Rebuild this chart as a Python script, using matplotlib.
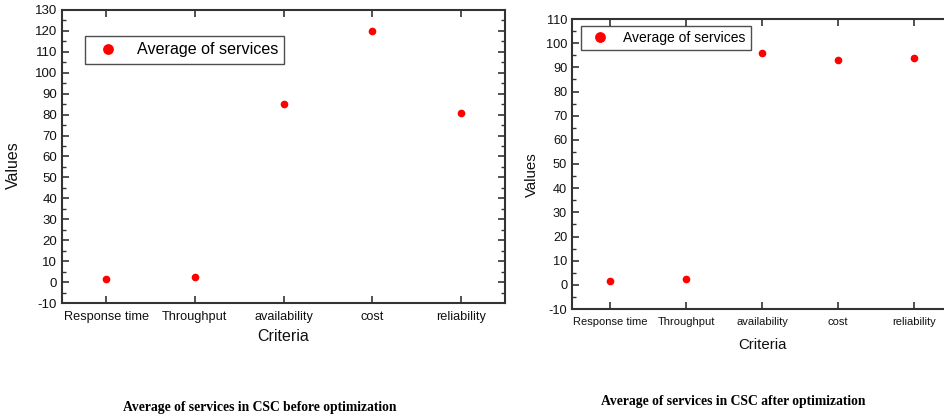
import matplotlib
matplotlib.use("Agg")
import matplotlib.pyplot as plt
from matplotlib.ticker import MultipleLocator

categories = ["Response time", "Throughput", "availability", "cost", "reliability"]
before_values = [1.5, 2.5, 85, 120, 81]
after_values = [1.5, 2.5, 96, 93, 94]
before_yticks = list(range(-10, 131, 10))
after_yticks = list(range(-10, 111, 10))

plt.rcParams['font.family'] = ['Liberation Sans', 'DejaVu Sans']
plt.rcParams['axes.unicode_minus'] = False

W, H = 944, 416
fig = plt.figure(figsize=(W / 100, H / 100), dpi=100)

def px_axes(x0, y0, x1, y1):
    return fig.add_axes([x0 / W, 1 - y1 / H, (x1 - x0) / W, (y1 - y0) / H])

spine_col = '#333333'

def style(ax, yticks, fs_xtick, fs_ytick, fs_label, fs_leg, leg_anchor, ylabel_xy, xlabel_y,
          htp, bpad):
    ax.set_xlim(-0.5, len(categories) - 0.5)
    ax.set_ylim(yticks[0], yticks[-1])
    ax.set_yticks(yticks)
    ax.set_yticklabels([str(t) for t in yticks])
    ax.yaxis.set_minor_locator(MultipleLocator(5))
    ax.set_xticks(range(len(categories)))
    ax.set_xticklabels(categories)
    for s in ax.spines.values():
        s.set_linewidth(1.5)
        s.set_color(spine_col)
    ax.tick_params(axis='both', which='both', direction='in', top=True, right=True,
                   color=spine_col, labelcolor='#111111')
    ax.tick_params(axis='x', labelsize=fs_xtick, pad=6)
    ax.tick_params(axis='y', labelsize=fs_ytick)
    ax.tick_params(axis='both', which='major', length=5, width=1.2)
    ax.tick_params(axis='y', which='minor', length=3, width=1.0)
    ax.set_xlabel("Criteria", fontsize=fs_label, color='#111111')
    ax.set_ylabel("Values", fontsize=fs_label, color='#111111')
    ax.yaxis.set_label_coords(*ylabel_xy)
    ax.xaxis.set_label_coords(0.5, xlabel_y)
    leg = ax.legend(loc='upper left', bbox_to_anchor=leg_anchor, fontsize=fs_leg,
                    frameon=True, fancybox=False, edgecolor='#222222',
                    handletextpad=htp, borderpad=bpad, markerscale=1.5,
                    borderaxespad=0)
    leg.get_frame().set_linewidth(1.0)

# Left panel
ax1 = px_axes(62, 10, 505, 303)
ax1.plot(range(len(categories)), before_values, 'o', color='#ff0000', markersize=4.5,
         linestyle='none', label='Average of services')
style(ax1, before_yticks, 9.2, 9.5, 11.5, 11.6, ((85 - 62) / 443, (303 - 36) / 293),
      (-0.093, 0.47), -0.09, 0.8, 0.4)

# Right panel
ax2 = px_axes(572, 19, 952, 309)
ax2.plot(range(len(categories)), after_values, 'o', color='#ff0000', markersize=4.5,
         linestyle='none', label='Average of services')
style(ax2, after_yticks, 8.0, 9.2, 10.8, 10.0, ((581 - 572) / 380, (309 - 26) / 290),
      (-0.087, 0.465), -0.1, 0.7, 0.35)

fig.text(260 / W, 1 - 407 / H, "Average of services in CSC before optimization",
         ha='center', va='center', fontsize=9.8, fontweight='bold',
         family=['Liberation Serif', 'DejaVu Serif'])
fig.text(733 / W, 1 - 402 / H, "Average of services in CSC after optimization",
         ha='center', va='center', fontsize=9.8, fontweight='bold',
         family=['Liberation Serif', 'DejaVu Serif'])

fig.savefig("out.png", dpi=100)
